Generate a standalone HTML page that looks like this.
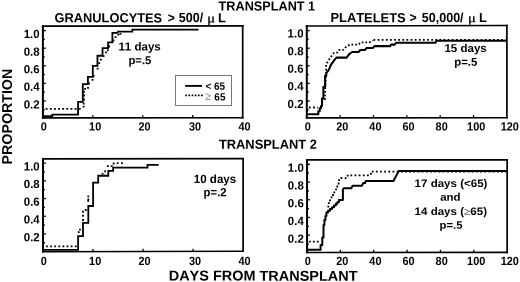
<!DOCTYPE html>
<html lang="en"><head><meta charset="utf-8"><title>Engraftment after transplant</title>
<style>html,body{margin:0;padding:0;background:#fff;}body{width:520px;height:282px;overflow:hidden;}svg{display:block;}text{fill:#000;font-kerning:none;font-family:"Liberation Sans",sans-serif;font-weight:bold;}.sy{font-family:"Liberation Serif",serif;font-weight:normal;}</style>
</head><body>
<svg width="520" height="282" viewBox="0 0 520 282">
<rect x="0" y="0" width="520" height="282" fill="#fff"/>
<g stroke="#000" fill="none">
<line x1="42.9" y1="25.3" x2="42.9" y2="118.65" stroke-width="2.0"/>
<line x1="41.9" y1="26.1" x2="243.5" y2="25.8" stroke-width="1.75"/>
<line x1="242.7" y1="25.0" x2="242.7" y2="118.55" stroke-width="1.7"/>
<line x1="41.9" y1="117.9" x2="243.5" y2="117.8" stroke-width="1.6"/>
<line x1="42.9" y1="30.60" x2="45.8" y2="30.60" stroke-width="1.3"/>
<line x1="42.9" y1="39.40" x2="44.8" y2="39.40" stroke-width="1.3"/>
<line x1="42.9" y1="48.20" x2="45.8" y2="48.20" stroke-width="1.3"/>
<line x1="42.9" y1="57.00" x2="44.8" y2="57.00" stroke-width="1.3"/>
<line x1="42.9" y1="65.80" x2="45.8" y2="65.80" stroke-width="1.3"/>
<line x1="42.9" y1="74.60" x2="44.8" y2="74.60" stroke-width="1.3"/>
<line x1="42.9" y1="83.40" x2="45.8" y2="83.40" stroke-width="1.3"/>
<line x1="42.9" y1="92.20" x2="44.8" y2="92.20" stroke-width="1.3"/>
<line x1="42.9" y1="101.00" x2="45.8" y2="101.00" stroke-width="1.3"/>
<line x1="42.9" y1="109.80" x2="44.8" y2="109.80" stroke-width="1.3"/>
<line x1="92.85" y1="117.88" x2="92.85" y2="115.17" stroke-width="1.3"/>
<line x1="142.80" y1="117.85" x2="142.80" y2="115.15" stroke-width="1.3"/>
<line x1="192.75" y1="117.83" x2="192.75" y2="115.12" stroke-width="1.3"/>
</g>
<text transform="translate(39.60,38.05) rotate(0.05) scale(0.96,1)" font-size="11.9" text-anchor="end">1.0</text>
<text transform="translate(39.60,55.65) rotate(0.05) scale(0.96,1)" font-size="11.9" text-anchor="end">0.8</text>
<text transform="translate(39.60,73.25) rotate(0.05) scale(0.96,1)" font-size="11.9" text-anchor="end">0.6</text>
<text transform="translate(39.60,90.85) rotate(0.05) scale(0.96,1)" font-size="11.9" text-anchor="end">0.4</text>
<text transform="translate(39.60,108.45) rotate(0.05) scale(0.96,1)" font-size="11.9" text-anchor="end">0.2</text>
<text transform="translate(43.80,130.50) rotate(0.05) scale(0.915,1)" font-size="11.9" text-anchor="middle">0</text>
<text transform="translate(95.15,130.50) rotate(0.05) scale(0.915,1)" font-size="11.9" text-anchor="middle">10</text>
<text transform="translate(144.55,130.50) rotate(0.05) scale(0.915,1)" font-size="11.9" text-anchor="middle">20</text>
<text transform="translate(195.05,130.50) rotate(0.05) scale(0.915,1)" font-size="11.9" text-anchor="middle">30</text>
<text transform="translate(244.55,130.50) rotate(0.05) scale(0.915,1)" font-size="11.9" text-anchor="middle">40</text>
<g stroke="#000" fill="none">
<line x1="306.8" y1="25.2" x2="306.8" y2="118.65" stroke-width="2.0"/>
<line x1="305.8" y1="26.0" x2="507.7" y2="25.5" stroke-width="1.75"/>
<line x1="506.9" y1="24.7" x2="506.9" y2="118.55" stroke-width="1.7"/>
<line x1="305.8" y1="117.9" x2="507.7" y2="117.8" stroke-width="1.6"/>
<line x1="306.8" y1="30.60" x2="309.7" y2="30.60" stroke-width="1.3"/>
<line x1="306.8" y1="39.40" x2="308.7" y2="39.40" stroke-width="1.3"/>
<line x1="306.8" y1="48.20" x2="309.7" y2="48.20" stroke-width="1.3"/>
<line x1="306.8" y1="57.00" x2="308.7" y2="57.00" stroke-width="1.3"/>
<line x1="306.8" y1="65.80" x2="309.7" y2="65.80" stroke-width="1.3"/>
<line x1="306.8" y1="74.60" x2="308.7" y2="74.60" stroke-width="1.3"/>
<line x1="306.8" y1="83.40" x2="309.7" y2="83.40" stroke-width="1.3"/>
<line x1="306.8" y1="92.20" x2="308.7" y2="92.20" stroke-width="1.3"/>
<line x1="306.8" y1="101.00" x2="309.7" y2="101.00" stroke-width="1.3"/>
<line x1="306.8" y1="109.80" x2="308.7" y2="109.80" stroke-width="1.3"/>
<line x1="340.15" y1="117.88" x2="340.15" y2="115.18" stroke-width="1.3"/>
<line x1="373.50" y1="117.87" x2="373.50" y2="115.17" stroke-width="1.3"/>
<line x1="406.85" y1="117.85" x2="406.85" y2="115.15" stroke-width="1.3"/>
<line x1="440.20" y1="117.83" x2="440.20" y2="115.13" stroke-width="1.3"/>
<line x1="473.55" y1="117.82" x2="473.55" y2="115.12" stroke-width="1.3"/>
</g>
<text transform="translate(303.50,37.55) rotate(0.05) scale(0.96,1)" font-size="11.9" text-anchor="end">1.0</text>
<text transform="translate(303.50,55.15) rotate(0.05) scale(0.96,1)" font-size="11.9" text-anchor="end">0.8</text>
<text transform="translate(303.50,72.75) rotate(0.05) scale(0.96,1)" font-size="11.9" text-anchor="end">0.6</text>
<text transform="translate(303.50,90.35) rotate(0.05) scale(0.96,1)" font-size="11.9" text-anchor="end">0.4</text>
<text transform="translate(303.50,107.95) rotate(0.05) scale(0.96,1)" font-size="11.9" text-anchor="end">0.2</text>
<text transform="translate(307.90,130.50) rotate(0.05) scale(0.915,1)" font-size="11.9" text-anchor="middle">0</text>
<text transform="translate(342.25,130.50) rotate(0.05) scale(0.915,1)" font-size="11.9" text-anchor="middle">20</text>
<text transform="translate(375.40,130.50) rotate(0.05) scale(0.915,1)" font-size="11.9" text-anchor="middle">40</text>
<text transform="translate(408.55,130.50) rotate(0.05) scale(0.915,1)" font-size="11.9" text-anchor="middle">60</text>
<text transform="translate(441.65,130.50) rotate(0.05) scale(0.915,1)" font-size="11.9" text-anchor="middle">80</text>
<text transform="translate(476.15,130.50) rotate(0.05) scale(0.915,1)" font-size="11.9" text-anchor="middle">100</text>
<text transform="translate(509.75,130.50) rotate(0.05) scale(0.915,1)" font-size="11.9" text-anchor="middle">120</text>
<g stroke="#000" fill="none">
<line x1="43.0" y1="158.0" x2="43.0" y2="252.55" stroke-width="2.0"/>
<line x1="42.0" y1="158.8" x2="243.9" y2="158.7" stroke-width="1.75"/>
<line x1="243.1" y1="157.89999999999998" x2="243.1" y2="251.95" stroke-width="1.7"/>
<line x1="42.0" y1="251.8" x2="243.9" y2="251.2" stroke-width="1.6"/>
<line x1="43.0" y1="163.20" x2="45.9" y2="163.20" stroke-width="1.3"/>
<line x1="43.0" y1="172.04" x2="44.9" y2="172.04" stroke-width="1.3"/>
<line x1="43.0" y1="180.88" x2="45.9" y2="180.88" stroke-width="1.3"/>
<line x1="43.0" y1="189.72" x2="44.9" y2="189.72" stroke-width="1.3"/>
<line x1="43.0" y1="198.56" x2="45.9" y2="198.56" stroke-width="1.3"/>
<line x1="43.0" y1="207.40" x2="44.9" y2="207.40" stroke-width="1.3"/>
<line x1="43.0" y1="216.24" x2="45.9" y2="216.24" stroke-width="1.3"/>
<line x1="43.0" y1="225.08" x2="44.9" y2="225.08" stroke-width="1.3"/>
<line x1="43.0" y1="233.92" x2="45.9" y2="233.92" stroke-width="1.3"/>
<line x1="43.0" y1="242.76" x2="44.9" y2="242.76" stroke-width="1.3"/>
<line x1="93.03" y1="251.65" x2="93.03" y2="248.95" stroke-width="1.3"/>
<line x1="143.05" y1="251.50" x2="143.05" y2="248.80" stroke-width="1.3"/>
<line x1="193.07" y1="251.35" x2="193.07" y2="248.65" stroke-width="1.3"/>
</g>
<text transform="translate(39.70,170.45) rotate(0.05) scale(0.96,1)" font-size="11.9" text-anchor="end">1.0</text>
<text transform="translate(39.70,188.13) rotate(0.05) scale(0.96,1)" font-size="11.9" text-anchor="end">0.8</text>
<text transform="translate(39.70,205.81) rotate(0.05) scale(0.96,1)" font-size="11.9" text-anchor="end">0.6</text>
<text transform="translate(39.70,223.49) rotate(0.05) scale(0.96,1)" font-size="11.9" text-anchor="end">0.4</text>
<text transform="translate(39.70,241.17) rotate(0.05) scale(0.96,1)" font-size="11.9" text-anchor="end">0.2</text>
<text transform="translate(43.80,265.05) rotate(0.05) scale(0.915,1)" font-size="11.9" text-anchor="middle">0</text>
<text transform="translate(95.15,265.05) rotate(0.05) scale(0.915,1)" font-size="11.9" text-anchor="middle">10</text>
<text transform="translate(144.55,265.05) rotate(0.05) scale(0.915,1)" font-size="11.9" text-anchor="middle">20</text>
<text transform="translate(195.05,265.05) rotate(0.05) scale(0.915,1)" font-size="11.9" text-anchor="middle">30</text>
<text transform="translate(244.55,265.05) rotate(0.05) scale(0.915,1)" font-size="11.9" text-anchor="middle">40</text>
<g stroke="#000" fill="none">
<line x1="307.05" y1="159.14999999999998" x2="307.05" y2="253.25" stroke-width="2.0"/>
<line x1="306.05" y1="159.95" x2="507.95" y2="159.8" stroke-width="1.75"/>
<line x1="507.15" y1="159.0" x2="507.15" y2="253.15" stroke-width="1.7"/>
<line x1="306.05" y1="252.5" x2="507.95" y2="252.4" stroke-width="1.6"/>
<line x1="307.05" y1="164.30" x2="309.95" y2="164.30" stroke-width="1.3"/>
<line x1="307.05" y1="173.16" x2="308.95" y2="173.16" stroke-width="1.3"/>
<line x1="307.05" y1="182.02" x2="309.95" y2="182.02" stroke-width="1.3"/>
<line x1="307.05" y1="190.88" x2="308.95" y2="190.88" stroke-width="1.3"/>
<line x1="307.05" y1="199.74" x2="309.95" y2="199.74" stroke-width="1.3"/>
<line x1="307.05" y1="208.60" x2="308.95" y2="208.60" stroke-width="1.3"/>
<line x1="307.05" y1="217.46" x2="309.95" y2="217.46" stroke-width="1.3"/>
<line x1="307.05" y1="226.32" x2="308.95" y2="226.32" stroke-width="1.3"/>
<line x1="307.05" y1="235.18" x2="309.95" y2="235.18" stroke-width="1.3"/>
<line x1="307.05" y1="244.04" x2="308.95" y2="244.04" stroke-width="1.3"/>
<line x1="340.40" y1="252.48" x2="340.40" y2="249.78" stroke-width="1.3"/>
<line x1="373.75" y1="252.47" x2="373.75" y2="249.77" stroke-width="1.3"/>
<line x1="407.10" y1="252.45" x2="407.10" y2="249.75" stroke-width="1.3"/>
<line x1="440.45" y1="252.43" x2="440.45" y2="249.73" stroke-width="1.3"/>
<line x1="473.80" y1="252.42" x2="473.80" y2="249.72" stroke-width="1.3"/>
</g>
<text transform="translate(303.75,171.85) rotate(0.05) scale(0.96,1)" font-size="11.9" text-anchor="end">1.0</text>
<text transform="translate(303.75,189.57) rotate(0.05) scale(0.96,1)" font-size="11.9" text-anchor="end">0.8</text>
<text transform="translate(303.75,207.29) rotate(0.05) scale(0.96,1)" font-size="11.9" text-anchor="end">0.6</text>
<text transform="translate(303.75,225.01) rotate(0.05) scale(0.96,1)" font-size="11.9" text-anchor="end">0.4</text>
<text transform="translate(303.75,242.73) rotate(0.05) scale(0.96,1)" font-size="11.9" text-anchor="end">0.2</text>
<text transform="translate(307.90,265.05) rotate(0.05) scale(0.915,1)" font-size="11.9" text-anchor="middle">0</text>
<text transform="translate(342.25,265.05) rotate(0.05) scale(0.915,1)" font-size="11.9" text-anchor="middle">20</text>
<text transform="translate(375.40,265.05) rotate(0.05) scale(0.915,1)" font-size="11.9" text-anchor="middle">40</text>
<text transform="translate(408.55,265.05) rotate(0.05) scale(0.915,1)" font-size="11.9" text-anchor="middle">60</text>
<text transform="translate(441.65,265.05) rotate(0.05) scale(0.915,1)" font-size="11.9" text-anchor="middle">80</text>
<text transform="translate(476.15,265.05) rotate(0.05) scale(0.915,1)" font-size="11.9" text-anchor="middle">100</text>
<text transform="translate(509.75,265.05) rotate(0.05) scale(0.915,1)" font-size="11.9" text-anchor="middle">120</text>
<path d="M43 116.1 H52.3 V114.6 H78.05 V101.8 H82.8 V84.1 H87.9 V76.9 H92.8 V65.9 H97.45 V55.75 H102.55 V48.1 H108.1 V42.3 H112.4 V32.9 H117.2 L118 31.7 H132.3 V29.7 H198.5" fill="none" stroke="#000" stroke-width="1.8" stroke-linejoin="miter"/>
<path d="M45.7 108.9 H82" fill="none" stroke="#000" stroke-width="1.8" stroke-linejoin="miter" stroke-dasharray="1.9 2.23"/>
<path d="M82.70 105.70h1.80v1.80h-1.80zM82.80 102.70h1.80v1.80h-1.80zM84.25 87.90h1.80v1.80h-1.80zM87.10 87.00h1.80v1.80h-1.80zM91.65 78.90h1.80v1.80h-1.80zM92.70 74.90h1.80v1.80h-1.80zM96.70 67.70h1.80v1.80h-1.80zM98.30 62.30h1.80v1.80h-1.80zM99.95 58.70h1.80v1.80h-1.80zM105.05 51.40h1.80v1.80h-1.80zM107.00 49.50h1.80v1.80h-1.80zM114.60 36.30h1.80v1.80h-1.80zM117.40 33.70h1.80v1.80h-1.80zM119.50 32.90h1.80v1.80h-1.80zM83.10 98.60h1.80v1.80h-1.80zM83.10 94.60h1.80v1.80h-1.80zM83.10 90.90h1.80v1.80h-1.80zM88.10 82.60h1.80v1.80h-1.80zM102.70 55.30h1.80v1.80h-1.80zM108.30 45.60h1.80v1.80h-1.80zM112.50 39.60h1.80v1.80h-1.80z" fill="#000"/>
<path d="M307.8 114.3 H318.3 V111.3 H319.7 V108.3 H321 V106 H322 V98.5 H323.4 V86.8 H325.1 V75.7 H326.3 V73 L328.8 69.9 L330.9 64.8 L334.3 60.1 L336.4 57.6 H346.6 L349.6 53.75 L352.2 52.0 H358.6 L360.3 50 H364.9 L366.6 48 H372.8 L374.6 46.1 H390.3 L391.1 44.6 H394.6 L396.3 42.8 H435.5 L436.3 40.8 H506.5" fill="none" stroke="#000" stroke-width="2.05" stroke-linejoin="round"/>
<path d="M308.9 107.5 H318" fill="none" stroke="#000" stroke-width="1.8" stroke-linejoin="miter" stroke-dasharray="1.8 2.4"/>
<path d="M324.9 100 L325.3 86 L326.2 70.3 L326 66.5 L326.9 63.1 L328.6 60.5 L330 58 L332 55.6 L333.9 53 L337.3 52.6 L339.2 49.9 H343.2 L345.4 47.4 L347.5 45.9 L350 44.7 H358.3 L360.7 42.4 H368.8 L371.7 41.5 L373 40.4" fill="none" stroke="#000" stroke-width="1.8" stroke-linejoin="miter" stroke-dasharray="1.7 2.0"/>
<path d="M373.5 39.8 H506.5" fill="none" stroke="#000" stroke-width="1.8" stroke-linejoin="miter" stroke-dasharray="1.8 2.32"/>
<path d="M43 249.8 H78.1 V236.2 H83 V222.8 H88.3 V206 H93.1 V182.6 H98.2 V175.75 H108.3 V170.9 H113.15 V167.55 H147.5 V164.8 H158.7" fill="none" stroke="#000" stroke-width="1.8" stroke-linejoin="miter"/>
<path d="M46.1 246.3 H77.5" fill="none" stroke="#000" stroke-width="1.8" stroke-linejoin="miter" stroke-dasharray="1.8 2.3"/>
<path d="M77.80 231.30h1.80v1.80h-1.80zM79.10 228.70h1.80v1.80h-1.80zM82.10 219.10h1.80v1.80h-1.80zM82.10 214.85h1.80v1.80h-1.80zM82.10 210.85h1.80v1.80h-1.80zM84.85 209.10h1.80v1.80h-1.80zM87.30 199.95h1.80v1.80h-1.80zM87.40 195.50h1.80v1.80h-1.80zM87.40 198.50h1.80v1.80h-1.80zM101.70 173.00h1.80v1.80h-1.80zM104.25 170.40h1.80v1.80h-1.80zM107.00 165.15h1.80v1.80h-1.80zM110.80 165.15h1.80v1.80h-1.80zM112.75 162.60h1.80v1.80h-1.80zM116.75 162.30h1.80v1.80h-1.80zM121.00 162.30h1.80v1.80h-1.80z" fill="#000"/>
<path d="M307.8 249.7 H320.6 V245 H322.3 V237.4 H323.5 V225 H324.4 V220 H325.4 V216 H326.4 V212.6 H328 V210.8 H330 V209 H332 V207.3 H334 V205.6 H335.8 V203.8 H337.4 V202 H339 V200 H342.9 V189.4 L343.6 188.2 H351.3 L352.6 185.7 H362 L363.2 183.1 H365 L365.8 181 H393.4 L398.8 171.0 H506.5" fill="none" stroke="#000" stroke-width="2.0" stroke-linejoin="round"/>
<path d="M308.9 241.65 H319.5" fill="none" stroke="#000" stroke-width="1.8" stroke-linejoin="miter" stroke-dasharray="1.8 2.2"/>
<path d="M327.40 205.70h1.80v1.80h-1.80zM327.90 202.30h1.80v1.80h-1.80zM329.10 199.40h1.80v1.80h-1.80zM330.70 196.40h1.80v1.80h-1.80zM332.10 194.10h1.80v1.80h-1.80zM333.40 191.40h1.80v1.80h-1.80zM335.10 188.50h1.80v1.80h-1.80zM336.40 185.60h1.80v1.80h-1.80zM337.70 182.60h1.80v1.80h-1.80zM338.20 179.20h1.80v1.80h-1.80zM340.50 177.10h1.80v1.80h-1.80zM344.70 177.20h1.80v1.80h-1.80zM346.80 174.70h1.80v1.80h-1.80zM370.00 172.90h1.80v1.80h-1.80z" fill="#000"/>
<path d="M350.4 175.4 H369" fill="none" stroke="#000" stroke-width="1.8" stroke-linejoin="miter" stroke-dasharray="1.8 2.35"/>
<path d="M371.7 171.7 H506.5" fill="none" stroke="#000" stroke-width="1.8" stroke-linejoin="miter" stroke-dasharray="1.8 2.37"/>
<rect x="175.5" y="75.5" width="56" height="30" fill="#fff" stroke="#777" stroke-width="1"/>
<line x1="185.1" y1="85.9" x2="202.1" y2="85.9" stroke="#000" stroke-width="1.9"/>
<line x1="185.3" y1="95.4" x2="203" y2="95.4" stroke="#000" stroke-width="1.8" stroke-dasharray="1.7 1.45"/>
<text transform="translate(205.40,89.70) rotate(0.05) scale(0.95,1)" font-size="10.5" text-anchor="start">&lt; 65</text>
<text transform="translate(205.30,100.40) rotate(0.05) scale(0.95,1)" font-size="10.5" text-anchor="start"><tspan class="sy" font-size="11.5" fill="#333" dy="-0.7">≥</tspan><tspan dx="0.3" dy="0.7"> 65</tspan></text>
<text transform="translate(139.60,50.45) rotate(0.05) scale(0.98,1)" font-size="11.8" text-anchor="middle">11 days</text>
<text transform="translate(139.90,64.25) rotate(0.05) scale(0.97,1)" font-size="11.7" text-anchor="middle">p=.5</text>
<text transform="translate(465.60,51.95) rotate(0.05) scale(1.014,1)" font-size="11.4" text-anchor="middle">15 days</text>
<text transform="translate(465.80,65.80) rotate(0.05) scale(0.995,1)" font-size="11.4" text-anchor="middle">p=.5</text>
<text transform="translate(215.00,182.90) rotate(0.05) scale(0.97,1)" font-size="11.9" text-anchor="middle">10 days</text>
<text transform="translate(215.10,196.35) rotate(0.05) scale(0.953,1)" font-size="11.9" text-anchor="middle">p=.2</text>
<text transform="translate(451.00,186.95) rotate(0.05) scale(1.06,1)" font-size="10.9" text-anchor="middle">17 days (&lt;65)</text>
<text transform="translate(450.40,200.80) rotate(0.05) scale(1.06,1)" font-size="10.9" text-anchor="middle">and</text>
<text transform="translate(450.80,215.00) rotate(0.05) scale(1.06,1)" font-size="10.9" text-anchor="middle">14 days (<tspan class="sy">≥</tspan>65)</text>
<text transform="translate(451.00,228.70) rotate(0.05) scale(1.04,1)" font-size="10.9" text-anchor="middle">p=.5</text>
<text transform="translate(218.60,10.40) rotate(0.05) scale(0.962,1)" font-size="13.2" text-anchor="start">TRANSPLANT 1</text>
<text transform="translate(218.90,148.70) rotate(0.05) scale(0.977,1)" font-size="13.2" text-anchor="start">TRANSPLANT 2</text>
<text transform="translate(54.60,22.30) rotate(0.05) scale(0.972,1)" font-size="13.2" text-anchor="start">GRANULOCYTES</text>
<text transform="translate(167.80,22.20) rotate(0.05) scale(0.93,1)" font-size="13.2" text-anchor="start">&gt;</text>
<text transform="translate(178.80,22.10) rotate(0.05) scale(0.95,1)" font-size="13.2" text-anchor="start">500/</text>
<text transform="translate(207.30,22.30) rotate(0.05) scale(1.2,1)" font-size="12" text-anchor="start" class="sy" stroke="#000" stroke-width="0.3">μ</text>
<text transform="translate(218.00,22.35) rotate(0.05) scale(0.98,1)" font-size="13.2" text-anchor="start">L</text>
<text transform="translate(330.40,22.10) rotate(0.05) scale(0.98,1)" font-size="13.2" text-anchor="start">PLATELETS</text>
<text transform="translate(409.60,22.00) rotate(0.05) scale(0.93,1)" font-size="13.2" text-anchor="start">&gt;</text>
<text transform="translate(421.80,21.90) rotate(0.05) scale(0.95,1)" font-size="13.2" text-anchor="start">50,000/</text>
<text transform="translate(467.90,22.10) rotate(0.05) scale(1.2,1)" font-size="12" text-anchor="start" class="sy" stroke="#000" stroke-width="0.3">μ</text>
<text transform="translate(479.00,22.10) rotate(0.05) scale(0.98,1)" font-size="13.2" text-anchor="start">L</text>
<text transform="translate(168.70,280.55) rotate(0.05) scale(1.012,1)" font-size="14.3" text-anchor="start">DAYS FROM TRANSPLANT</text>
<text transform="translate(12.00,164.40) rotate(-89.95) scale(0.995,1)" font-size="14.3" text-anchor="start">PROPORTION</text>
</svg>
</body></html>
